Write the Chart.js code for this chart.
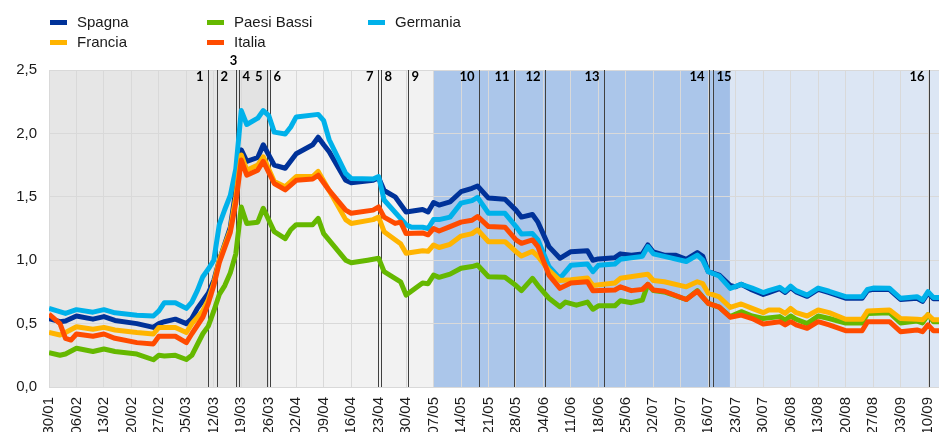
<!DOCTYPE html>
<html lang="it">
<head>
<meta charset="utf-8">
<script src="https://cdn.jsdelivr.net/npm/chart.js@4.4.1/dist/chart.umd.min.js"></script>
<style>
  html, body { margin: 0; padding: 0; background: #fff; overflow: hidden; }
  #wrap { position: relative; width: 939px; height: 432px; }
  #legend { position: absolute; left: 0; top: 0; width: 939px; height: 60px;
            font: 15px "Liberation Sans", Arial, sans-serif; color: #1a1a1a; }
  .item { position: absolute; height: 18px; line-height: 18px; white-space: nowrap; }
  .item i { position: absolute; left: 0; top: 7px; width: 17px; height: 5px; }
  .item span { position: absolute; left: 27px; top: 0; }
</style>
</head>
<body>
<div id="wrap">
  <canvas id="chart" width="939" height="432"></canvas>
  <div id="legend"></div>
</div>
<script>
// giorni lavorativi dal 30/01 (indice 0) al 14/09 (indice 162)
const tickLabels = ['30/01','06/02','13/02','20/02','27/02','05/03','12/03','19/03','26/03',
  '02/04','09/04','16/04','23/04','30/04','07/05','14/05','21/05','28/05','04/06','11/06',
  '18/06','25/06','02/07','09/07','16/07','23/07','30/07','06/08','13/08','20/08','27/08',
  '03/09','10/09'];

// [giorno, valore]
const spagna = [[0,0.54],[2,0.515],[3,0.52],[5,0.56],[8,0.535],[10,0.555],[12,0.525],[16,0.50],
  [19,0.47],[20,0.50],[21,0.515],[23,0.535],[25,0.50],[26,0.54],[27,0.62],[29,0.74],[30,0.84],
  [31,1.0],[33,1.26],[34,1.55],[35,1.87],[36,1.78],[38,1.81],[39,1.91],[41,1.75],[43,1.725],
  [45,1.84],[48,1.91],[49,1.97],[50,1.91],[51,1.855],[54,1.63],[55,1.61],[59,1.63],[60,1.65],
  [61,1.55],[63,1.50],[65,1.38],[68,1.40],[69,1.38],[70,1.455],[71,1.435],[73,1.46],[75,1.54],
  [77,1.567],[78,1.585],[80,1.49],[83,1.48],[85,1.395],[86,1.34],[88,1.36],[89,1.30],[91,1.107],
  [93,1.015],[95,1.067],[98,1.075],[99,1.00],[100,1.01],[103,1.02],[104,1.05],[106,1.04],
  [108,1.05],[109,1.12],[110,1.065],[112,1.04],[114,1.04],[116,1.007],[118,1.06],[119,1.03],
  [120,0.91],[122,0.883],[124,0.80],[125,0.79],[126,0.81],[128,0.765],[130,0.73],[131,0.745],
  [133,0.775],[134,0.745],[135,0.785],[136,0.75],[138,0.715],[140,0.77],[142,0.745],[145,0.70],
  [148,0.70],[149,0.76],[150,0.77],[153,0.768],[155,0.69],[158,0.70],[159,0.676],[160,0.742],
  [161,0.695],[162,0.695]];

const francia = [[0,0.43],[2,0.41],[3,0.43],[5,0.475],[8,0.455],[10,0.47],[12,0.45],[16,0.43],
  [19,0.418],[20,0.47],[23,0.47],[25,0.43],[26,0.50],[28,0.60],[29,0.69],[30,0.82],[31,1.0],
  [33,1.24],[34,1.5],[35,1.83],[36,1.71],[38,1.75],[39,1.815],[41,1.62],[43,1.58],[45,1.66],
  [48,1.66],[49,1.70],[51,1.55],[54,1.32],[55,1.29],[59,1.32],[60,1.34],[61,1.225],[64,1.13],
  [65,1.055],[68,1.075],[69,1.07],[70,1.12],[71,1.10],[73,1.125],[75,1.19],[77,1.21],[78,1.24],
  [80,1.146],[83,1.146],[85,1.067],[86,1.033],[88,1.07],[89,1.03],[91,0.92],[93,0.84],[95,0.845],
  [98,0.86],[99,0.80],[103,0.82],[104,0.857],[108,0.883],[109,0.89],[110,0.84],[112,0.83],
  [116,0.79],[118,0.83],[119,0.815],[120,0.74],[122,0.71],[124,0.628],[126,0.655],[128,0.62],
  [130,0.586],[131,0.607],[133,0.607],[134,0.58],[135,0.62],[136,0.586],[138,0.56],[140,0.607],
  [142,0.586],[145,0.534],[148,0.534],[149,0.60],[153,0.607],[155,0.54],[158,0.535],[159,0.53],
  [160,0.57],[161,0.53],[162,0.53]];

const paesiBassi = [[0,0.27],[2,0.25],[3,0.26],[5,0.305],[8,0.28],[10,0.30],[12,0.28],[16,0.26],
  [19,0.215],[20,0.25],[21,0.245],[23,0.25],[25,0.217],[26,0.25],[28,0.42],[29,0.48],[30,0.60],
  [31,0.73],[32,0.80],[33,0.90],[34,1.05],[35,1.42],[36,1.29],[38,1.30],[39,1.41],[41,1.225],
  [43,1.17],[44,1.24],[45,1.28],[48,1.28],[49,1.33],[50,1.21],[54,1.00],[55,0.98],[58,1.00],
  [60,1.015],[61,0.91],[64,0.83],[65,0.725],[68,0.82],[69,0.815],[70,0.883],[71,0.865],[73,0.89],
  [75,0.936],[77,0.95],[78,0.962],[80,0.87],[83,0.865],[85,0.80],[86,0.76],[88,0.857],[89,0.80],
  [91,0.70],[93,0.633],[94,0.67],[96,0.645],[98,0.67],[99,0.613],[100,0.64],[103,0.64],[104,0.68],
  [106,0.665],[108,0.685],[109,0.81],[110,0.76],[112,0.75],[116,0.69],[118,0.76],[120,0.66],
  [122,0.63],[124,0.555],[126,0.594],[128,0.56],[130,0.54],[133,0.555],[134,0.528],[135,0.56],
  [136,0.534],[138,0.50],[140,0.56],[142,0.54],[145,0.505],[148,0.505],[149,0.58],[153,0.586],
  [155,0.505],[158,0.52],[159,0.505],[160,0.57],[161,0.515],[162,0.515]];

const italia = [[0,0.575],[2,0.50],[3,0.384],[4,0.37],[5,0.418],[8,0.40],[10,0.418],[12,0.384],
  [16,0.35],[19,0.34],[20,0.40],[23,0.40],[25,0.35],[26,0.42],[28,0.55],[29,0.66],[30,0.80],
  [31,0.98],[33,1.22],[34,1.45],[35,1.79],[36,1.67],[38,1.71],[39,1.78],[41,1.605],[43,1.555],
  [45,1.63],[48,1.64],[49,1.67],[51,1.55],[54,1.395],[55,1.37],[59,1.395],[60,1.42],[61,1.34],
  [63,1.29],[64,1.30],[65,1.21],[68,1.215],[69,1.20],[70,1.25],[71,1.23],[73,1.265],[75,1.30],
  [77,1.315],[78,1.345],[80,1.265],[83,1.26],[85,1.16],[86,1.133],[88,1.16],[89,1.107],[91,0.883],
  [93,0.778],[95,0.82],[98,0.83],[99,0.76],[103,0.765],[104,0.79],[106,0.76],[108,0.77],[109,0.81],
  [110,0.765],[112,0.755],[116,0.69],[118,0.755],[120,0.66],[122,0.63],[124,0.55],[126,0.567],
  [128,0.54],[130,0.497],[133,0.515],[134,0.49],[135,0.515],[136,0.49],[138,0.463],[140,0.515],
  [142,0.49],[145,0.444],[148,0.444],[149,0.515],[153,0.515],[155,0.436],[158,0.45],[159,0.436],
  [160,0.49],[161,0.444],[162,0.444]];

const germania = [[0,0.62],[3,0.58],[5,0.61],[8,0.59],[10,0.61],[12,0.585],[16,0.565],[19,0.56],
  [20,0.60],[21,0.665],[23,0.665],[25,0.62],[26,0.67],[27,0.76],[28,0.87],[29,0.93],[30,1.0],
  [31,1.28],[32,1.40],[33,1.51],[34,1.72],[35,2.18],[36,2.07],[38,2.12],[39,2.18],[40,2.14],
  [41,2.01],[43,1.995],[44,2.05],[45,2.13],[49,2.15],[50,2.10],[51,1.95],[54,1.685],[55,1.645],
  [59,1.64],[60,1.66],[61,1.475],[65,1.28],[66,1.26],[68,1.26],[69,1.25],[70,1.32],[71,1.32],
  [73,1.34],[75,1.45],[77,1.47],[78,1.495],[80,1.37],[83,1.37],[85,1.265],[86,1.207],[88,1.21],
  [89,1.16],[91,0.95],[93,0.857],[95,0.96],[98,0.97],[99,0.91],[100,0.96],[103,0.97],[104,1.007],
  [108,1.03],[109,1.107],[110,1.05],[112,1.03],[116,0.99],[118,1.04],[119,1.00],[120,0.91],
  [122,0.875],[124,0.778],[126,0.81],[128,0.78],[130,0.745],[131,0.76],[133,0.786],[134,0.755],
  [135,0.795],[136,0.76],[138,0.725],[140,0.78],[142,0.755],[145,0.712],[148,0.712],[149,0.77],
  [150,0.78],[153,0.778],[155,0.70],[158,0.712],[159,0.686],[160,0.752],[161,0.705],[162,0.705]];

// eventi numerati (giorno lavorativo)
const eventDays = [28.96, 30.5, 34.0, 34.66, 39.76, 40.22, 59.9, 60.5, 65.33, 78.2, 84.6,
  90.25, 101.0, 120.2, 120.84, 160.1];
const eventNames = ['1','2','3','4','5','6','7','8','9','10','11','12','13','14','15','16'];
const eventSide  = ['l','r','t','r','l','r','l','r','r','l','l','l','l','l','r','l'];

// fasce di sfondo
const bands = [
  { from: 0,      to: 34.0,   color: '#e6e6e6' },
  { from: 34.0,   to: 39.9,   color: '#e3e3e3' },
  { from: 39.9,   to: 69.95,  color: '#f2f2f2' },
  { from: 69.95,  to: 120.84, color: '#abc6ea' },
  { from: 120.84, to: 123.95, color: '#a2bfe7' },
  { from: 123.95, to: 163,    color: '#dce6f4' }
];

const series = [
  { label: 'Spagna',      data: spagna,     color: '#003299', z: 4 },
  { label: 'Francia',     data: francia,    color: '#ffb400', z: 1 },
  { label: 'Paesi Bassi', data: paesiBassi, color: '#65b800', z: 3 },
  { label: 'Italia',      data: italia,     color: '#ff4b00', z: 0 },
  { label: 'Germania',    data: germania,   color: '#00b1ea', z: 2 }
];

// legenda in colonne
const legendPos = [[50, 13], [50, 33], [207, 13], [207, 33], [368, 13]];
const legend = document.getElementById('legend');
series.forEach((s, i) => {
  const el = document.createElement('div');
  el.className = 'item';
  el.style.left = legendPos[i][0] + 'px';
  el.style.top = legendPos[i][1] + 'px';
  el.innerHTML = '<i style="background:' + s.color + '"></i><span>' + s.label + '</span>';
  legend.appendChild(el);
});

const bandsPlugin = {
  id: 'bands',
  beforeDraw(chart) {
    const { ctx, chartArea: a, scales: { x } } = chart;
    ctx.save();
    bands.forEach(b => {
      const x0 = Math.max(a.left, x.getPixelForValue(b.from));
      const x1 = Math.min(a.right, x.getPixelForValue(b.to));
      ctx.fillStyle = b.color;
      ctx.fillRect(x0, a.top, x1 - x0, a.bottom - a.top);
    });
    ctx.restore();
  },
  beforeDatasetsDraw(chart) {
    const { ctx, chartArea: a, scales: { x } } = chart;
    ctx.save();
    ctx.strokeStyle = '#404040';
    ctx.lineWidth = 1;
    ctx.fillStyle = '#000';
    ctx.font = 'bold 13px Lato, "DejaVu Sans", sans-serif';
    ctx.textBaseline = 'middle';
    eventDays.forEach((d, i) => {
      const px = Math.round(x.getPixelForValue(d)) + 0.5;
      ctx.beginPath();
      ctx.moveTo(px, a.top);
      ctx.lineTo(px, a.bottom);
      ctx.stroke();
      const side = eventSide[i];
      if (side === 'l') {
        ctx.textAlign = 'right';
        ctx.fillText(eventNames[i], px - 5, a.top + 7);
      } else if (side === 'r') {
        ctx.textAlign = 'left';
        ctx.fillText(eventNames[i], px + 3, a.top + 7);
      } else {
        ctx.textAlign = 'center';
        ctx.fillText(eventNames[i], px - 3, a.top - 9);
      }
    });
    ctx.restore();
  }
};

new Chart(document.getElementById('chart'), {
  type: 'line',
  data: {
    datasets: series.map(s => ({
      label: s.label,
      data: s.data.map(p => ({ x: p[0], y: p[1] })),
      borderColor: s.color,
      backgroundColor: s.color,
      borderWidth: 5,
      pointRadius: 0,
      tension: 0,
      borderJoinStyle: 'round',
      order: s.z
    }))
  },
  options: {
    responsive: false,
    animation: false,
    layout: { padding: { top: 70, left: 0, right: 0, bottom: 0 } },
    plugins: { legend: { display: false }, tooltip: { enabled: false } },
    scales: {
      x: {
        type: 'linear',
        min: 0,
        max: 162,
        border: { display: false },
        grid: { color: '#d9d9d9', drawTicks: false, lineWidth: 1 },
        ticks: {
          autoSkip: false,
          maxRotation: 90,
          minRotation: 90,
          padding: 10,
          color: '#1a1a1a',
          font: { family: '"Liberation Sans", Arial, sans-serif', size: 15 },
          callback: v => tickLabels[v / 5]
        },
        // un tick ogni 5 giorni lavorativi (settimanale)
        afterBuildTicks: s => { s.ticks = tickLabels.map((_, i) => ({ value: i * 5 })); },
        afterFit: s => { s.height = 45; s.paddingLeft = 0; s.paddingRight = 0; }
      },
      y: {
        min: 0,
        max: 2.5,
        border: { display: false },
        grid: { color: '#d9d9d9', drawTicks: false, lineWidth: 1 },
        ticks: {
          stepSize: 0.5,
          padding: 12,
          color: '#1a1a1a',
          font: { family: '"Liberation Sans", Arial, sans-serif', size: 15 },
          callback: v => v.toFixed(1).replace('.', ',')
        },
        afterFit: s => { s.width = 49; }
      }
    }
  },
  plugins: [bandsPlugin]
});
</script>
</body>
</html>
